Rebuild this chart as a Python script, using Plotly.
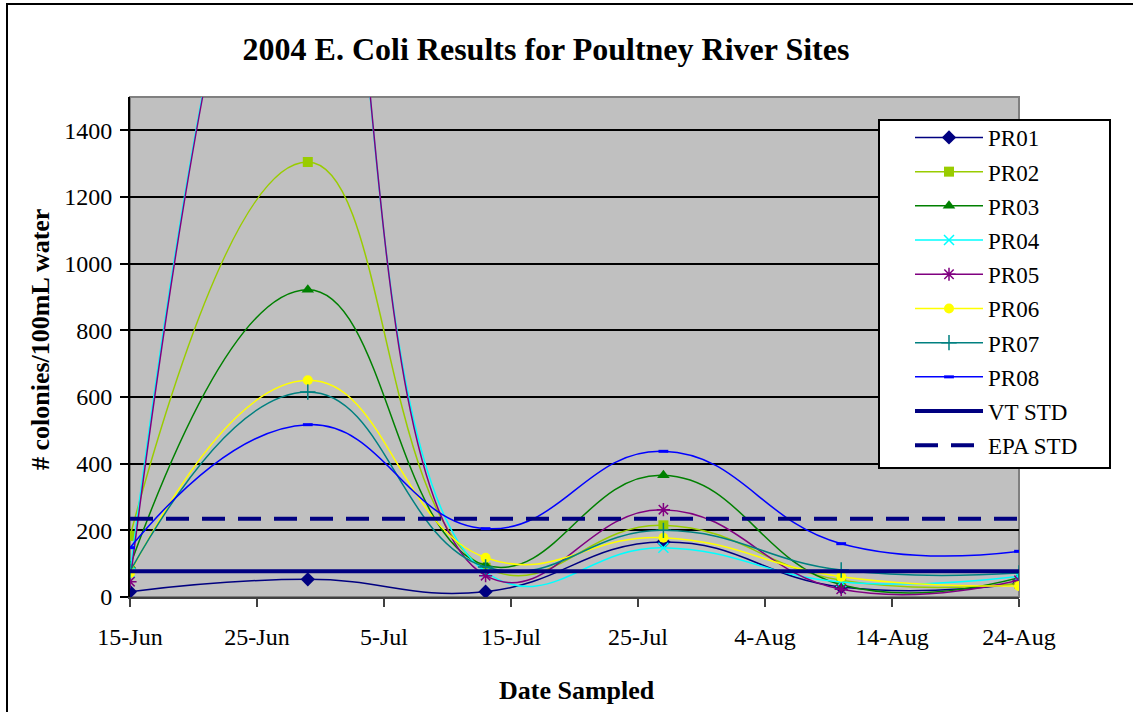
import plotly.graph_objects as go

dates = ["2004-06-15", "2004-06-29", "2004-07-13", "2004-07-27", "2004-08-10", "2004-08-24"]
pr01 = [16, 53, 16, 165, 30, 40]
pr02 = [183, 1305, 88, 215, 50, 40]
pr03 = [94, 922, 95, 365, 37, 58]
pr04 = [73, 2420, 75, 148, 45, 62]
pr05 = [46, 2420, 64, 262, 23, 50]
pr06 = [72, 650, 118, 178, 61, 33]
pr07 = [77, 615, 90, 200, 81, 72]
pr08 = [148, 517, 205, 437, 160, 137]
vt_std = [77, 77, 77, 77, 77, 77]
epa_std = [235, 235, 235, 235, 235, 235]

FONT = "Liberation Serif, Times New Roman, serif"

series = [
    ("PR01", pr01, "#000080", dict(symbol="diamond", size=11, color="#000080")),
    ("PR02", pr02, "#99CC00", dict(symbol="square", size=10, color="#99CC00")),
    ("PR03", pr03, "#008000", dict(symbol="triangle-up", size=11, color="#008000")),
    ("PR04", pr04, "#00FFFF", dict(symbol="x-thin-open", size=10, color="#00FFFF", line=dict(width=1.5, color="#00FFFF"))),
    ("PR05", pr05, "#800080", dict(symbol="asterisk-open", size=11, color="#800080", line=dict(width=1.5, color="#800080"))),
    ("PR06", pr06, "#FFFF00", dict(symbol="circle", size=10, color="#FFFF00")),
    ("PR07", pr07, "#008080", dict(symbol="cross-thin-open", size=11, color="#008080", line=dict(width=1.5, color="#008080"))),
    ("PR08", pr08, "#0000FF", dict(symbol="line-ew-open", size=7, color="#0000FF", line=dict(width=3, color="#0000FF"))),
]

fig = go.Figure()
for name, vals, col, mk in series:
    fig.add_trace(go.Scatter(
        x=dates, y=vals, name=name, mode="lines+markers",
        line=dict(color=col, width=1.5, shape="spline", smoothing=1.3),
        marker=mk, legendgroup=name,
    ))

fig.add_trace(go.Scatter(
    x=dates, y=vt_std, name="VT STD", mode="lines",
    line=dict(color="#000080", width=4), legendgroup="VT STD",
))
fig.add_trace(go.Scatter(
    x=dates, y=epa_std, name="EPA STD", mode="lines",
    line=dict(color="#000080", width=4, dash="23px,13px"), legendgroup="EPA STD",
))

W, H = 1133, 712
L, R, T, B = 130, 1019, 97, 597
pw, ph = R - L, B - T

def px(xp):
    return (xp - L) / pw

def py(yp):
    return (B - yp) / ph

fig.update_layout(
    width=W, height=H,
    margin=dict(l=L, r=W - R, t=T, b=H - B, pad=0),
    paper_bgcolor="white",
    plot_bgcolor="#C0C0C0",
    font=dict(family=FONT, size=23, color="black"),
    showlegend=True,
    title=dict(
        text="<b>2004 E. Coli Results for Poultney River Sites</b>",
        font=dict(family=FONT, size=32, color="black"),
        x=546 / W, xanchor="center", xref="container",
        y=1 - 49 / H, yanchor="middle", yref="container",
    ),
    legend=dict(
        x=px(910), y=py(116), xanchor="left", yanchor="top",
        bgcolor="rgba(0,0,0,0)", borderwidth=0,
        font=dict(family=FONT, size=23, color="black"),
        itemwidth=68, tracegroupgap=1.3,
        itemclick=False,
    ),
    xaxis=dict(
        type="date",
        range=["2004-06-15", "2004-08-24"],
        tick0="2004-06-15", dtick=10 * 86400000,
        tickformat="%-d-%b",
        showgrid=False, zeroline=False,
        showline=True, linecolor="#404040", linewidth=2,
        ticks="outside", ticklen=8, tickcolor="#404040", tickwidth=1.5,
        tickfont=dict(family=FONT, size=24, color="black"),
        ticklabelstandoff=9,
        fixedrange=True,
    ),
    yaxis=dict(
        range=[0, 1500], dtick=200, tick0=0,
        showgrid=True, gridcolor="black", gridwidth=1.5,
        zeroline=False,
        showline=True, linecolor="black", linewidth=2,
        ticks="outside", ticklen=8, tickcolor="black", tickwidth=1.5,
        tickfont=dict(family=FONT, size=24, color="black"),
        ticklabelstandoff=3,
        fixedrange=True,
    ),
    shapes=[
        dict(type="rect", xref="paper", yref="paper",
             x0=px(7), x1=px(1150), y0=py(730), y1=py(4),
             line=dict(color="black", width=2), fillcolor="rgba(0,0,0,0)", layer="below"),
        dict(type="rect", xref="paper", yref="paper",
             x0=0, x1=1, y0=0, y1=1,
             line=dict(color="#808080", width=2), fillcolor="rgba(0,0,0,0)", layer="below"),
        dict(type="rect", xref="paper", yref="paper",
             x0=px(879), x1=px(1110), y0=py(468), y1=py(120),
             line=dict(color="black", width=2), fillcolor="white", layer="above"),
    ],
    annotations=[
        dict(text="<b>Date Sampled</b>", xref="paper", yref="paper",
             x=px(577), y=py(690), xanchor="center", yanchor="middle",
             showarrow=False, font=dict(family=FONT, size=26, color="black")),
        dict(text="<b># colonies/100mL water</b>", xref="paper", yref="paper",
             x=px(40), y=py(340), xanchor="center", yanchor="middle", textangle=-90,
             showarrow=False, font=dict(family=FONT, size=26, color="black")),
    ],
)

fig.write_html(
    "out.html",
    config={"displayModeBar": False},
    post_script="document.body.style.margin='0px';",
)
